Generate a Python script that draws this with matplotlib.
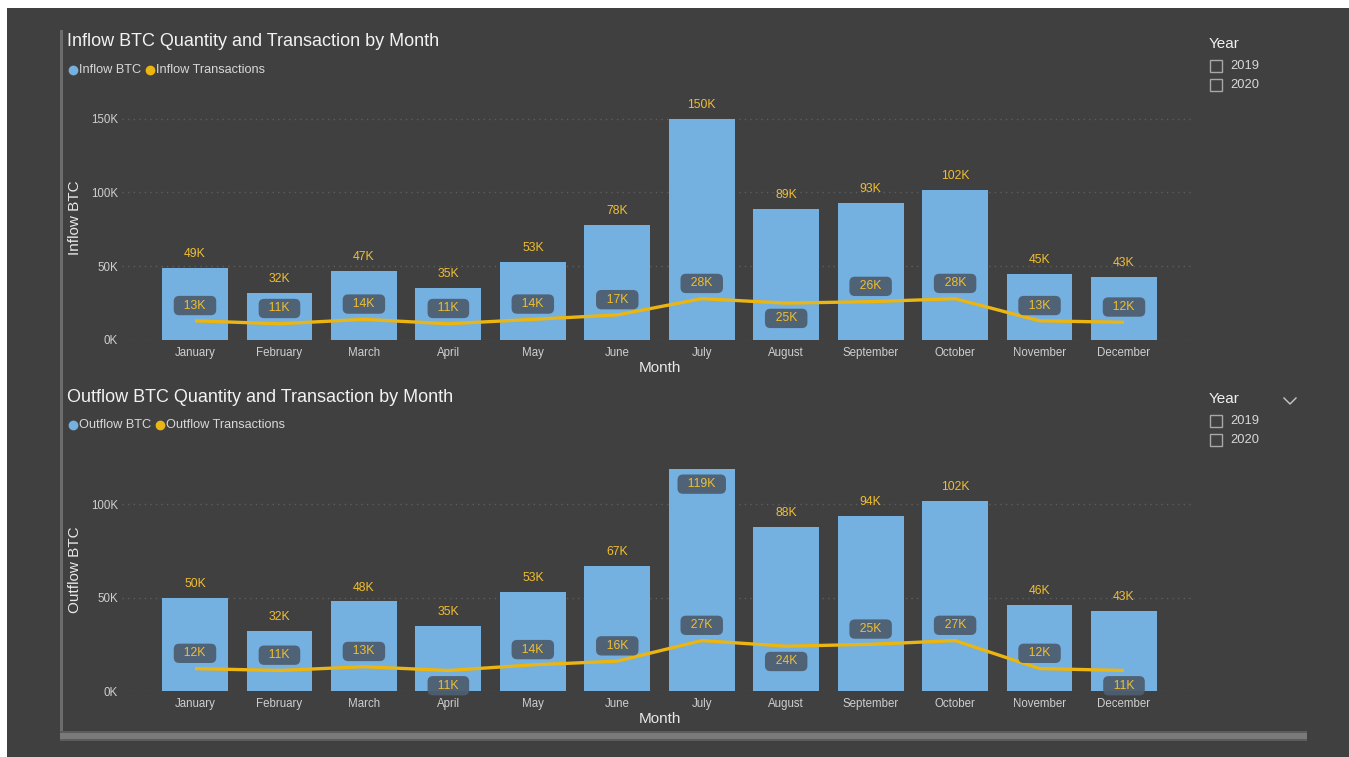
import matplotlib
matplotlib.use('Agg')
import matplotlib.pyplot as plt
from matplotlib.patches import Rectangle
from matplotlib.lines import Line2D
import numpy as np

plt.rcParams['font.family'] = ['Liberation Sans', 'DejaVu Sans']

MONTHS = ['January', 'February', 'March', 'April', 'May', 'June', 'July',
          'August', 'September', 'October', 'November', 'December']
INFLOW_BTC = [49, 32, 47, 35, 53, 78, 150, 89, 93, 102, 45, 43]       # thousands
INFLOW_TX = [13, 11, 14, 11, 14, 17, 28, 25, 26, 28, 13, 12]
OUTFLOW_BTC = [50, 32, 48, 35, 53, 67, 119, 88, 94, 102, 46, 43]
OUTFLOW_TX = [12, 11, 13, 11, 14, 16, 27, 24, 25, 27, 12, 11]
YEARS = ['2019', '2020']

# labels of the transaction line placed under the point (Power BI collision layout)
INFLOW_TX_BELOW = ['August']
OUTFLOW_TX_BELOW = ['April', 'August', 'December']

BG = '#404040'
BAR = '#74B0E0'
LINE = '#EBB512'
LBL = '#F0BE32'
BOX = '#4D5E70'
W, H = 1349, 757


def fx(x): return x / W
def fy(y): return 1 - y / H


fig = plt.figure(figsize=(W / 100, H / 100), dpi=100, facecolor='white')
fig.add_artist(Rectangle((fx(7), 0), 1 - fx(7), fy(8), transform=fig.transFigure,
                         facecolor=BG, edgecolor='none', zorder=0))
# frame decoration: left rule and bottom bar
fig.add_artist(Rectangle((fx(60), fy(738)), fx(3), fy(30) - fy(738), transform=fig.transFigure,
                         facecolor='#6c6c6c', edgecolor='none'))
fig.add_artist(Rectangle((fx(60), fy(741)), fx(1247), fy(731) - fy(741), transform=fig.transFigure,
                         facecolor='#5c5c5c', edgecolor='none'))
fig.add_artist(Rectangle((fx(60), fy(739)), fx(1247), fy(733) - fy(739), transform=fig.transFigure,
                         facecolor='#7a7a7a', edgecolor='none'))


def draw_chart(top_px, zero_px, ymax, ticks, btc, tx, below, title, names, ylabel, title_y, ylabel_y):
    left_px, right_px = 122, 1192
    ax = fig.add_axes([fx(left_px), fy(zero_px), fx(right_px - left_px), fy(top_px) - fy(zero_px)])
    ax.set_facecolor('none')
    x = np.arange(len(MONTHS))
    step = (1124 - 195) / 11
    ax.set_xlim(-(195 - left_px) / step, 11 + (right_px - 1124) / step)
    ax.set_ylim(0, ymax)
    ax.bar(x, btc, width=0.78, color=BAR, zorder=2)
    ax.plot(x, tx, color=LINE, lw=2.4, zorder=3, solid_capstyle='butt')
    for s in ax.spines.values():
        s.set_visible(False)
    ax.set_yticks(ticks)
    ax.set_yticklabels([f'{t}K' for t in ticks])
    ax.set_xticks(x)
    ax.set_xticklabels(MONTHS)
    ax.tick_params(length=0, colors='#cfcfcf', labelsize=8.3)
    ax.tick_params(axis='x', pad=5)
    ax.tick_params(axis='y', pad=3)
    ax.grid(axis='y', color='#5e5e5e', ls=(0, (1, 3)), lw=1, zorder=0)
    ax.set_axisbelow(True)

    box = dict(boxstyle='round,pad=0.3,rounding_size=0.45', fc=BOX, ec='none', alpha=0.95)
    for i, v in enumerate(btc):
        if v > ymax * 0.95:
            ax.annotate(f'  {v}K  ', (i, v), xytext=(0, -11), textcoords='offset points',
                        ha='center', va='center', color=LBL, fontsize=8.8, bbox=box, zorder=5)
        else:
            ax.annotate(f'{v}K', (i, v), xytext=(0, 10), textcoords='offset points',
                        ha='center', va='center', color=LBL, fontsize=8.8, zorder=5,
                        annotation_clip=False)
    for i, v in enumerate(tx):
        dy = -11 if MONTHS[i] in below else 11
        ax.annotate(f'  {v}K  ', (i, v), xytext=(0, dy), textcoords='offset points',
                    ha='center', va='center', color=LBL, fontsize=8.8, bbox=box, zorder=5)

    fig.text(fx(660), fy(zero_px + 28), 'Month', color='#e8e8e8', fontsize=11, ha='center', va='center')
    fig.text(fx(75), fy(ylabel_y), ylabel, color='#e8e8e8', fontsize=11,
             rotation=90, ha='center', va='center')
    fig.text(fx(67), fy(title_y), title, color='#f2f2f2', fontsize=13, ha='left', va='center')
    # legend
    ly = title_y + 28
    fig.add_artist(Line2D([fx(73)], [fy(ly)], marker='o', ms=6, color=BAR, ls='none',
                          transform=fig.transFigure))
    t1 = fig.text(fx(79), fy(ly), names[0], color='#d8d8d8', fontsize=9.2, ha='left', va='center')
    fig.canvas.draw()
    bb = t1.get_window_extent()
    x2 = bb.x1 + 9
    fig.add_artist(Line2D([x2 / W], [fy(ly)], marker='o', ms=6, color=LINE, ls='none',
                          transform=fig.transFigure))
    fig.text((x2 + 6) / W, fy(ly), names[1], color='#d8d8d8', fontsize=9.2, ha='left', va='center')
    return ax


def draw_slicer(y0, chevron=False):
    fig.text(fx(1209), fy(y0), 'Year', color='#f0f0f0', fontsize=11, ha='left', va='center')
    for k, yr in enumerate(YEARS):
        cy = y0 + 22 + k * 19
        fig.add_artist(Rectangle((fx(1210), fy(cy + 6)), fx(12), fy(cy - 6) - fy(cy + 6),
                                 transform=fig.transFigure, facecolor='none',
                                 edgecolor='#a8a8a8', lw=1))
        fig.text(fx(1230), fy(cy), yr, color='#d8d8d8', fontsize=9.3, ha='left', va='center')
    if chevron:
        fig.add_artist(Line2D([fx(1284), fx(1290), fx(1296)], [fy(398), fy(404), fy(398)],
                              color='#c8c8c8', lw=1, transform=fig.transFigure))


draw_chart(104, 340, 160, [0, 50, 100, 150], INFLOW_BTC, INFLOW_TX, INFLOW_TX_BELOW,
           'Inflow BTC Quantity and Transaction by Month', ['Inflow BTC', 'Inflow Transactions'],
           'Inflow BTC', 42, 218)
draw_chart(467, 691, 120, [0, 50, 100], OUTFLOW_BTC, OUTFLOW_TX, OUTFLOW_TX_BELOW,
           'Outflow BTC Quantity and Transaction by Month', ['Outflow BTC', 'Outflow Transactions'],
           'Outflow BTC', 397, 570)
draw_slicer(44)
draw_slicer(399, chevron=True)

fig.savefig('out.png', dpi=100, facecolor=fig.get_facecolor())
